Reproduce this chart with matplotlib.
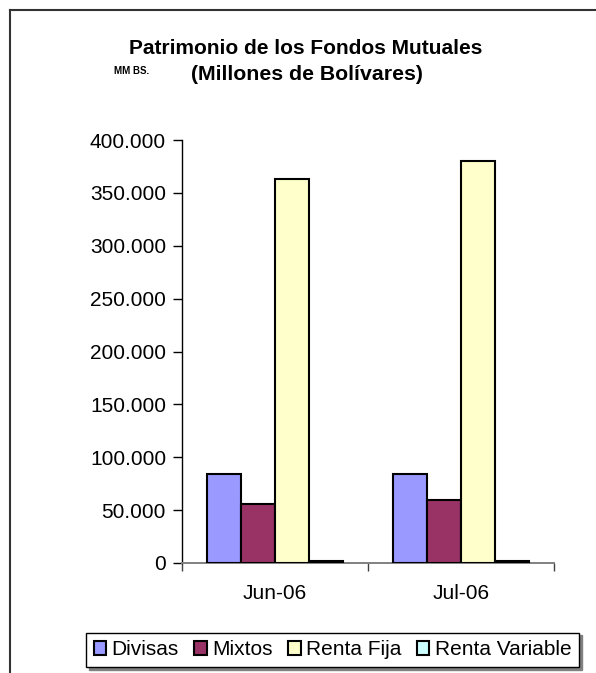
import matplotlib
matplotlib.use("Agg")
import matplotlib.pyplot as plt
import numpy as np
from matplotlib.lines import Line2D
from matplotlib.ticker import FuncFormatter, FixedLocator

# Data
categories = ["Jun-06", "Jul-06"]
series = ["Divisas", "Mixtos", "Renta Fija", "Renta Variable"]
divisas = [84000, 84000]
mixtos = [56000, 60000]
renta_fija = [363000, 380000]
renta_variable = [1500, 1800]
colors = ["#9999FF", "#993366", "#FFFFCC", "#CCFFFF"]
yticks = [0, 50000, 100000, 150000, 200000, 250000, 300000, 350000, 400000]

plt.rcParams["font.family"] = ["Liberation Sans", "DejaVu Sans"]

W, H = 596, 673
fig = plt.figure(figsize=(W / 100, H / 100), dpi=100)
fig.patch.set_facecolor("white")

# plot area in pixels: x 182..554, y 140..563
ax = fig.add_axes([182 / W, (H - 563) / H, (554 - 182) / W, (563 - 140) / H])

values = [divisas, mixtos, renta_fija, renta_variable]
x = np.arange(len(categories))
bw = 0.182
for i, (name, vals, c) in enumerate(zip(series, values, colors)):
    ax.bar(x + (i - 1.5) * bw, vals, width=bw, color=c, edgecolor="black",
           linewidth=1.5, label=name, zorder=3)

ax.set_xlim(-0.5, 1.5)
ax.set_ylim(0, 400000)
ax.set_yticks(yticks)
ax.yaxis.set_major_formatter(FuncFormatter(lambda v, p: f"{int(v):,}".replace(",", ".")))
ax.set_xticks(x)
ax.set_xticklabels(categories)
ax.xaxis.set_minor_locator(FixedLocator([-0.5, 0.5, 1.5]))

for s in ("top", "right"):
    ax.spines[s].set_visible(False)
ax.spines["left"].set_color("black")
ax.spines["left"].set_linewidth(1.0)
ax.spines["bottom"].set_color("#808080")
ax.spines["bottom"].set_linewidth(1.4)

ax.tick_params(axis="y", length=6.5, width=1.0, color="black", pad=5, labelsize=15)
ax.tick_params(axis="x", which="major", length=0, pad=15, labelsize=15)
ax.tick_params(axis="x", which="minor", length=5.5, width=1.0, color="#404040")

# Titles
fig.text(306 / W, 1 - 48 / H, "Patrimonio de los Fondos Mutuales", ha="center",
         va="center", fontsize=15, fontweight="bold")
fig.text(307 / W, 1 - 75 / H, "(Millones de Bolívares)", ha="center",
         va="center", fontsize=15.3, fontweight="bold")
fig.text(114 / W, 1 - 71 / H, "MM BS.", ha="left", va="center",
         fontsize=7, fontweight="bold")

# Legend
leg = fig.legend(loc="lower right", bbox_to_anchor=(579 / W, (H - 667) / H),
                 ncol=4, fontsize=15, frameon=True, fancybox=False,
                 shadow={"color": "#808080", "alpha": 1.0},
                 handlelength=0.6, handleheight=0.6, handletextpad=0.25,
                 columnspacing=0.75, borderpad=0.37, borderaxespad=0)
leg.get_frame().set_edgecolor("black")
leg.get_frame().set_linewidth(1.0)

# Chart-area frame (left and top edges visible)
fig.add_artist(Line2D([10 / W, 10 / W], [0, 1 - 10 / H], transform=fig.transFigure,
                      color="#333333", lw=1.5))
fig.add_artist(Line2D([10 / W, 1], [1 - 10 / H, 1 - 10 / H], transform=fig.transFigure,
                      color="#333333", lw=1.5))

fig.savefig("out.png", dpi=100)
